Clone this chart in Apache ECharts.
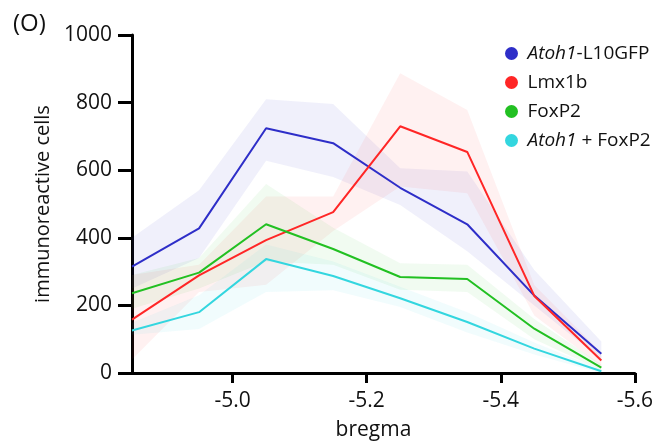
<!DOCTYPE html>
<html>
<head>
<meta charset="utf-8">
<script src="https://cdn.jsdelivr.net/npm/echarts@6/dist/echarts.min.js"></script>
<style>html,body{margin:0;padding:0;background:#fff}#c{width:656px;height:448px}</style>
</head>
<body>
<div id="c"></div>
<script>
// bregma positions (x)
const bregma = [-4.85, -4.95, -5.05, -5.15, -5.25, -5.35, -5.45, -5.55];
// means
const atoh1L10 = [315, 428, 724, 680, 548, 440, 229, 57];
const lmx1b    = [158, 289, 393, 476, 730, 654, 228, 37];
const foxp2    = [236, 297, 440, 367, 284, 278, 131, 16];
const atoh1Fox = [126, 180, 337, 287, 221, 151, 72, 5];
// error bands
const atoh1L10Upper = [400, 541, 810, 796, 606, 596, 305, 93];
const atoh1L10Lower = [250, 340, 628, 580, 497, 360, 200, 40];
const lmx1bUpper    = [290, 320, 522, 522, 887, 778, 260, 60];
const lmx1bLower    = [40, 240, 261, 420, 552, 532, 170, 20];
const foxp2Upper    = [290, 340, 559, 430, 325, 320, 160, 25];
const foxp2Lower    = [190, 250, 330, 320, 246, 240, 100, 8];
const atoh1FoxUpper = [149, 230, 380, 330, 255, 180, 90, 10];
const atoh1FoxLower = [113, 130, 240, 245, 195, 120, 55, 0];
const yTicks = [0, 200, 400, 600, 800, 1000];
const xTicks = [-5.0, -5.2, -5.4, -5.6];

const FONT = '"Open Sans", sans-serif';
const pair = arr => bregma.map((x, i) => [x, arr[i]]);

function band(id, lower, upper, color) {
  const rows = bregma.map((x, i) => [x, lower[i], upper[i]]);
  return {
    name: id, type: 'custom', silent: true, z: 1,
    data: rows,
    encode: { x: 0, y: [1, 2] },
    renderItem: function (params, api) {
      if (params.dataIndex !== 0) return null;
      const top = rows.map(r => api.coord([r[0], r[2]]));
      const bot = rows.map(r => api.coord([r[0], r[1]])).reverse();
      return { type: 'polygon', shape: { points: top.concat(bot) },
        style: { fill: color, stroke: null } };
    }
  };
}
function line(name, vals, color) {
  return { name: name, type: 'line', data: pair(vals), symbol: 'none',
    lineStyle: { color: color, width: 2 }, itemStyle: { color: color }, z: 3 };
}

const C_BLUE = '#2e2ec8', C_RED = '#ff2626', C_GREEN = '#22c022', C_CYAN = '#33d6df';

const chart = echarts.init(document.getElementById('c'));
chart.setOption({
  animation: false,
  backgroundColor: '#fff',
  title: { text: '(O)', left: 8, top: 7, textStyle: { fontFamily: FONT, fontSize: 24, fontWeight: 'normal', color: '#111' } },
  grid: { left: 132, right: 19, top: 35, bottom: 75 },
  legend: {
    orient: 'vertical', left: 500, top: 39, itemWidth: 22, itemHeight: 13, itemGap: 10,
    icon: 'circle',
    data: ['Atoh1-L10GFP', 'Lmx1b', 'FoxP2', 'Atoh1 + FoxP2'],
    formatter: function (n) {
      if (n === 'Atoh1-L10GFP') return '{i|Atoh1}-L10GFP';
      if (n === 'Atoh1 + FoxP2') return '{i|Atoh1} + FoxP2';
      return n;
    },
    textStyle: { fontFamily: FONT, fontSize: 19, color: '#111',
      rich: { i: { fontFamily: FONT, fontSize: 19, fontStyle: 'italic', color: '#111' } } }
  },
  xAxis: {
    type: 'value', inverse: true, min: -5.6, max: -4.85,
    name: 'bregma', nameLocation: 'middle', nameGap: 47,
    nameTextStyle: { fontFamily: FONT, fontSize: 21, color: '#111', padding: [0, 20, 0, 0] },
    axisLine: { show: true, lineStyle: { color: '#000', width: 3 } },
    axisTick: { show: true, length: 10, lineStyle: { color: '#000', width: 3 }, customValues: xTicks },
    axisLabel: { customValues: xTicks, formatter: v => v.toFixed(1), margin: 18,
      fontFamily: FONT, fontSize: 21, color: '#111' },
    splitLine: { show: false }
  },
  yAxis: {
    type: 'value', min: 0, max: 1000, interval: 200,
    name: 'immunoreactive cells', nameLocation: 'middle', nameGap: 78,
    nameTextStyle: { fontFamily: FONT, fontSize: 20, color: '#111' },
    axisLine: { show: true, lineStyle: { color: '#000', width: 3 } },
    axisTick: { show: true, length: 14, lineStyle: { color: '#000', width: 3 } },
    axisLabel: { margin: 20, fontFamily: FONT, fontSize: 21, color: '#111',
      formatter: v => yTicks.includes(v) ? String(v) : '' },
    splitLine: { show: false }
  },
  series: [
    band('b1', atoh1L10Lower, atoh1L10Upper, 'rgba(60,70,200,0.08)'),
    band('b2', lmx1bLower, lmx1bUpper, 'rgba(255,60,60,0.07)'),
    band('b3', foxp2Lower, foxp2Upper, 'rgba(60,200,60,0.07)'),
    band('b4', atoh1FoxLower, atoh1FoxUpper, 'rgba(60,210,225,0.07)'),
    line('Atoh1-L10GFP', atoh1L10, C_BLUE),
    line('Lmx1b', lmx1b, C_RED),
    line('FoxP2', foxp2, C_GREEN),
    line('Atoh1 + FoxP2', atoh1Fox, C_CYAN)
  ]
});
</script>
</body>
</html>
